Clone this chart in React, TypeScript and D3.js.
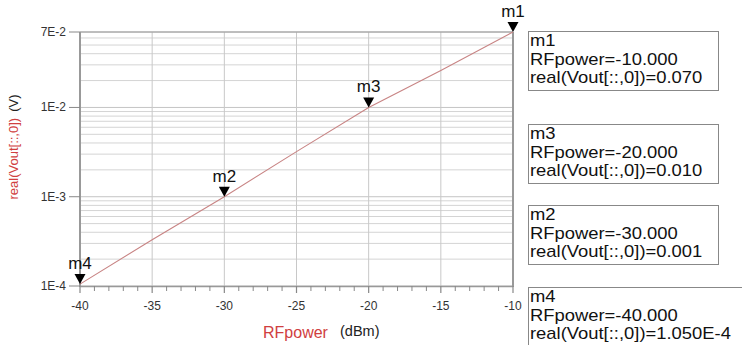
import * as d3 from "d3";

const rfPower = [-40, -35, -30, -25, -20, -15, -10];
const vout = [1.05e-4, 3.3e-4, 1.0e-3, 3.2e-3, 0.01, 0.026, 0.07];

const markerNames = ["m1", "m3", "m2", "m4"];
const markerX = [-10, -20, -30, -40];
const markerY = [0.07, 0.01, 0.001, 1.05e-4];
const markerText = ["0.070", "0.010", "0.001", "1.050E-4"];

const xTicks = [-40, -35, -30, -25, -20, -15, -10];
const yTicks = [1e-4, 1e-3, 1e-2, 7e-2];
const yTickLabels = ["1E-4", "1E-3", "1E-2", "7E-2"];

const W = 742;
const H = 345;
const FONT = "'Liberation Sans', Arial, sans-serif";

export default function App() {
  const x = d3.scaleLinear().domain([-40, -10]).range([80, 513]);
  const y = d3.scaleLog().domain([1e-4, 7e-2]).range([286, 32]);

  // minor horizontal grid: 2..9 in each decade
  const minor: number[] = [];
  for (const d of [-4, -3, -2]) {
    for (let k = 2; k <= 9; k++) {
      const v = k * Math.pow(10, d);
      if (v < 0.07) minor.push(v);
    }
  }
  const minorX = d3.range(-39, -10, 1).filter((v) => v % 5 !== 0);

  const line = d3
    .line<number>()
    .x((_, i) => x(rfPower[i]))
    .y((d) => y(d));

  const boxTop = [31, 124, 205, 287];

  return (
    <svg
      width={W}
      height={H}
      style={{ position: "absolute", left: 0, top: 0, background: "#fff" }}
      fontFamily={FONT}
    >
      {/* grid */}
      {minor.map((v) => (
        <line key={"h" + v} x1={80} x2={513} y1={y(v)} y2={y(v)} stroke="#d4d4d4" strokeWidth={1} />
      ))}
      {yTicks.map((v) => (
        <line key={"hm" + v} x1={80} x2={513} y1={y(v)} y2={y(v)} stroke="#c4c4c4" strokeWidth={1} />
      ))}
      {xTicks.map((v) => (
        <line key={"v" + v} x1={x(v)} x2={x(v)} y1={32} y2={286} stroke="#c8c8c8" strokeWidth={1} />
      ))}

      {/* frame */}
      <line x1={80} x2={513} y1={32} y2={32} stroke="#999" strokeWidth={1.2} />
      <line x1={80} x2={513} y1={286.5} y2={286.5} stroke="#999" strokeWidth={1.5} />
      <line x1={80} x2={80} y1={32} y2={287} stroke="#999" strokeWidth={2} />
      <line x1={513} x2={513} y1={32} y2={287} stroke="#999" strokeWidth={2} />

      {/* x ticks */}
      {xTicks.map((v) => (
        <line key={"xt" + v} x1={x(v)} x2={x(v)} y1={286} y2={293} stroke="#888" strokeWidth={1.2} />
      ))}
      {minorX.map((v) => (
        <line key={"xm" + v} x1={x(v)} x2={x(v)} y1={286} y2={291} stroke="#888" strokeWidth={1} />
      ))}
      {xTicks.map((v) => (
        <text key={"xl" + v} x={x(v)} y={310} textAnchor="middle" fontSize={12} fill="#333">
          {v}
        </text>
      ))}

      {/* y ticks */}
      {yTicks.map((v, i) => (
        <g key={"yt" + v}>
          <line x1={69} x2={80} y1={y(v)} y2={y(v)} stroke="#888" strokeWidth={1} />
          <text x={66} y={y(v) + 4} textAnchor="end" fontSize={12} fill="#333">
            {yTickLabels[i]}
          </text>
        </g>
      ))}

      {/* axis titles */}
      <text transform="translate(18,147) rotate(-90)" textAnchor="middle" fontSize={13}>
        <tspan fill="#d04040">real(Vout[::,0])</tspan>
        <tspan fill="#222" dx={6}>(V)</tspan>
      </text>
      <text x={263} y={338} fontSize={16} fill="#d04040">RFpower</text>
      <text x={340} y={336} fontSize={14.5} fill="#222">(dBm)</text>

      {/* series */}
      <path d={line(vout) ?? ""} fill="none" stroke="#c88484" strokeWidth={1.1} />

      {/* markers */}
      {markerNames.map((m, i) => {
        const px = x(markerX[i]);
        const py = y(markerY[i]);
        return (
          <g key={m}>
            <path d={`M${px},${py} L${px - 5.5},${py - 10} L${px + 5.5},${py - 10} Z`} fill="#000" />
            <text x={px} y={py - 15} textAnchor="middle" fontSize={17} fill="#111">
              {m}
            </text>
          </g>
        );
      })}

      {/* marker readouts */}
      {markerNames.map((m, i) => {
        const top = boxTop[i];
        return (
          <g key={"b" + m}>
            <rect x={528.5} y={top + 0.5} width={i === 3 ? 230 : 190} height={59} fill="#fff" stroke="#888" strokeWidth={1} />
            <g transform={`translate(530,${top}) scale(1.15,1)`} fontSize={16} fill="#111">
              <text x={0} y={15.5}>{m}</text>
              <text x={0} y={34}>{`RFpower=${markerX[i].toFixed(3)}`}</text>
              <text x={0} y={52.5}>{`real(Vout[::,0])=${markerText[i]}`}</text>
            </g>
          </g>
        );
      })}
    </svg>
  );
}
